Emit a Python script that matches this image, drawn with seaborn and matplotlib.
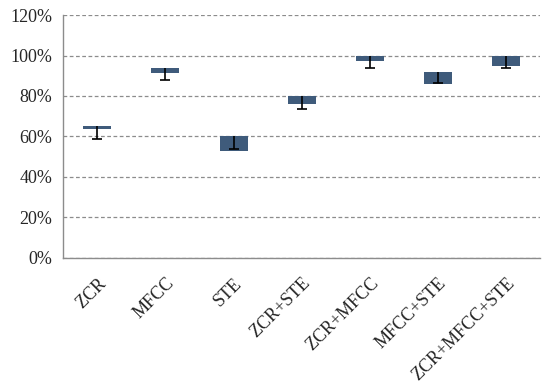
import numpy as np
import pandas as pd
import matplotlib
matplotlib.use("Agg")
import matplotlib.pyplot as plt
import matplotlib.transforms as mtransforms
import seaborn as sns

# feature sets and accuracy ranges (percent)
features = ['ZCR', 'MFCC', 'STE', 'ZCR+STE', 'ZCR+MFCC', 'MFCC+STE', 'ZCR+MFCC+STE']
low = [63.5, 91.5, 52.6, 75.9, 97.4, 85.9, 94.6]
high = [65.0, 94.0, 60.0, 80.0, 100.0, 92.0, 100.0]
err_low = [58.8, 87.9, 54.0, 73.7, 93.6, 86.3, 93.6]

df = pd.DataFrame({'feature': features, 'low': low, 'high': high, 'err_low': err_low})
df['span'] = df['high'] - df['low']

sns.set_style('white')
plt.rcParams['font.family'] = ['Liberation Serif', 'DejaVu Serif']
plt.rcParams['font.size'] = 13

fig = plt.figure(figsize=(5.5, 3.85), dpi=100)
ax = fig.add_axes([0.115, 0.33, 0.867, 0.631])

# floating bars: from low to high
sns.barplot(data=df, x='feature', y='span', bottom=df['low'].values,
            color='#3F5B7B', saturation=1, width=0.41, linewidth=0,
            ax=ax, zorder=3)

# error whisker drawn downward from top of bar, cap only at the bottom
xs = np.arange(len(features))
ax.vlines(xs, df['err_low'], df['high'], color='black', linewidth=1.2, zorder=4)
ax.scatter(xs, df['err_low'], marker='_', s=48, color='black', linewidths=1.2, zorder=4)

ax.set_xlim(-0.5, len(features) - 0.5)
ax.set_ylim(0, 120)
ax.set_yticks(range(0, 121, 20))
ax.set_yticklabels([f'{v}%' for v in range(0, 121, 20)])
ax.yaxis.grid(True, linestyle=(0, (3, 2)), color='#8c8c8c', linewidth=0.9, zorder=0)
ax.set_axisbelow(True)

ax.set_xticks(xs)
ax.set_xticklabels(features, rotation=45, ha='right', rotation_mode='anchor')
shift = mtransforms.ScaledTranslation(4 / 100, 0, fig.dpi_scale_trans)
for lbl in ax.get_xticklabels():
    lbl.set_transform(lbl.get_transform() + shift)
ax.set_xticks(np.arange(-0.5, len(features), 1.0), minor=True)
ax.tick_params(axis='x', which='major', length=0, pad=12)
ax.tick_params(axis='x', which='minor', length=5, color='#8c8c8c', width=1)
ax.tick_params(axis='y', length=5, color='#8c8c8c', width=1, pad=3)

for s in ['top', 'right']:
    ax.spines[s].set_visible(False)
for s in ['left', 'bottom']:
    ax.spines[s].set_color('#8c8c8c')
    ax.spines[s].set_linewidth(1)

ax.set_xlabel('')
ax.set_ylabel('')

fig.savefig('out.png', dpi=100)
